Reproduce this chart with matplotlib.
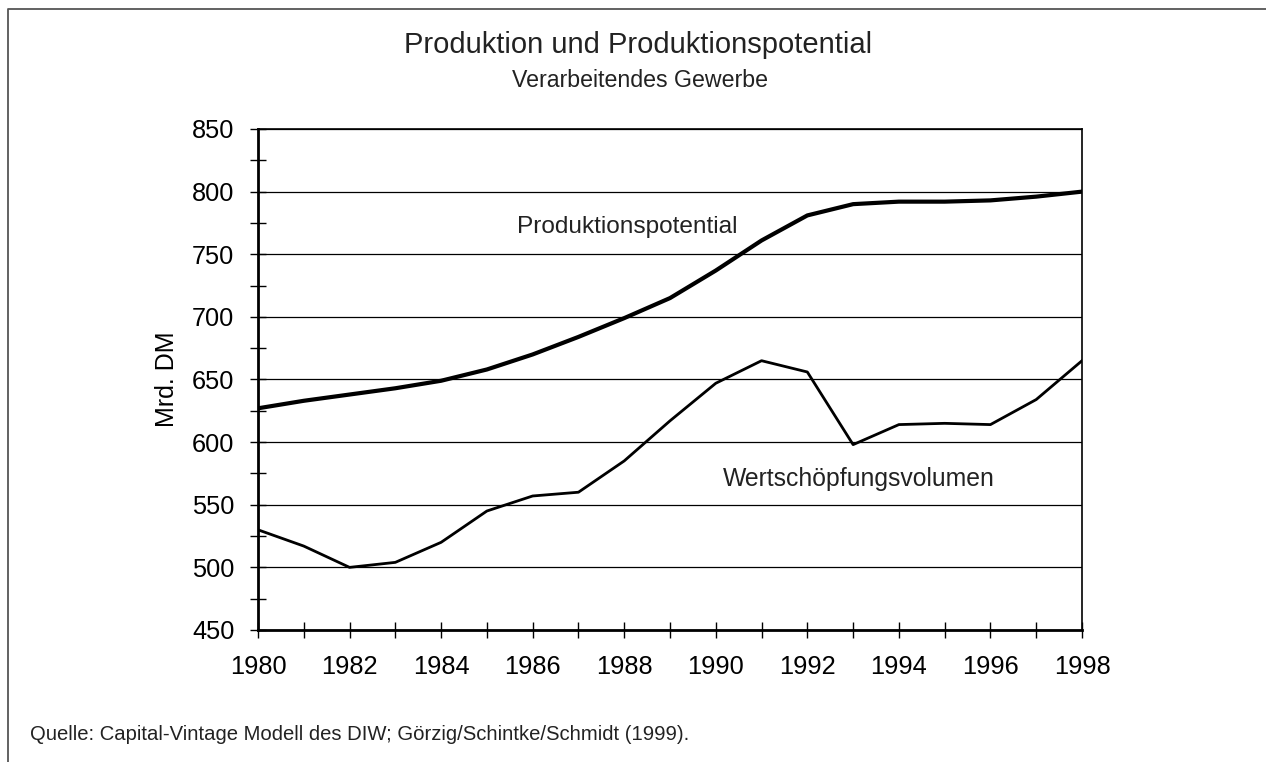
import matplotlib
matplotlib.use("Agg")
import matplotlib.pyplot as plt
from matplotlib.lines import Line2D
from matplotlib.ticker import MultipleLocator

plt.rcParams['font.family'] = ['Liberation Sans', 'DejaVu Sans']

years = list(range(1980, 1999))
potential = [627, 633, 638, 643, 649, 658, 670, 684, 699, 715, 737, 761, 781, 790, 792, 792, 793, 796, 800]
wertschoepfung = [530, 517, 500, 504, 520, 545, 557, 560, 585, 617, 647, 665, 656, 598, 614, 615, 614, 634, 665]

title = "Produktion und Produktionspotential"
subtitle = "Verarbeitendes Gewerbe"
ylabel = "Mrd. DM"
source = "Quelle: Capital-Vintage Modell des DIW; Görzig/Schintke/Schmidt (1999)."

W, H = 1266, 762
fig = plt.figure(figsize=(W / 100, H / 100), dpi=100)
ax = fig.add_axes([258/W, 1-630/H, (1082-258)/W, (630-129)/H])

ax.plot(years, potential, color='black', lw=3.0, solid_joinstyle='round')
ax.plot(years, wertschoepfung, color='black', lw=2.0, solid_joinstyle='round')

ax.set_xlim(1980, 1998)
ax.set_ylim(450, 850)
ax.xaxis.set_major_locator(MultipleLocator(2))
ax.xaxis.set_minor_locator(MultipleLocator(1))
ax.yaxis.set_major_locator(MultipleLocator(50))
ax.yaxis.set_minor_locator(MultipleLocator(25))
ax.yaxis.grid(True, which='major', color='black', lw=0.9)
ax.set_axisbelow(True)

ax.tick_params(axis='both', which='both', direction='inout', length=12, width=1.0,
               labelsize=18.3, colors='black')
ax.tick_params(axis='y', which='major', pad=11)
ax.tick_params(axis='x', which='major', pad=12)
for s in ['left', 'bottom']:
    ax.spines[s].set_linewidth(2.0)
for s in ['top', 'right']:
    ax.spines[s].set_linewidth(1.2)

ax.set_ylabel(ylabel, fontsize=18)
ax.yaxis.set_label_coords((179-258)/(1082-258), 0.5)

ax.text(1985.65, 767, "Produktionspotential", fontsize=17.6, va='baseline', ha='left', color='#222222')
ax.text(1990.15, 565, "Wertschöpfungsvolumen", fontsize=17.8, va='baseline', ha='left', color='#222222')

fig.text(638/W, 1-53/H, title, fontsize=21, ha='center', va='baseline', color='#222222')
fig.text(640/W, 1-87/H, subtitle, fontsize=16.7, ha='center', va='baseline', color='#222222')
fig.text(30/W, 1-740/H, source, fontsize=14.6, ha='left', va='baseline', color='#222222')

# border frame (top and left only visible)
fig.add_artist(Line2D([8/W, 8/W, 1.0], [0.0, 1-9/H, 1-9/H],
                      transform=fig.transFigure, color='#555555', lw=1.3))

fig.savefig("out.png", dpi=100)
